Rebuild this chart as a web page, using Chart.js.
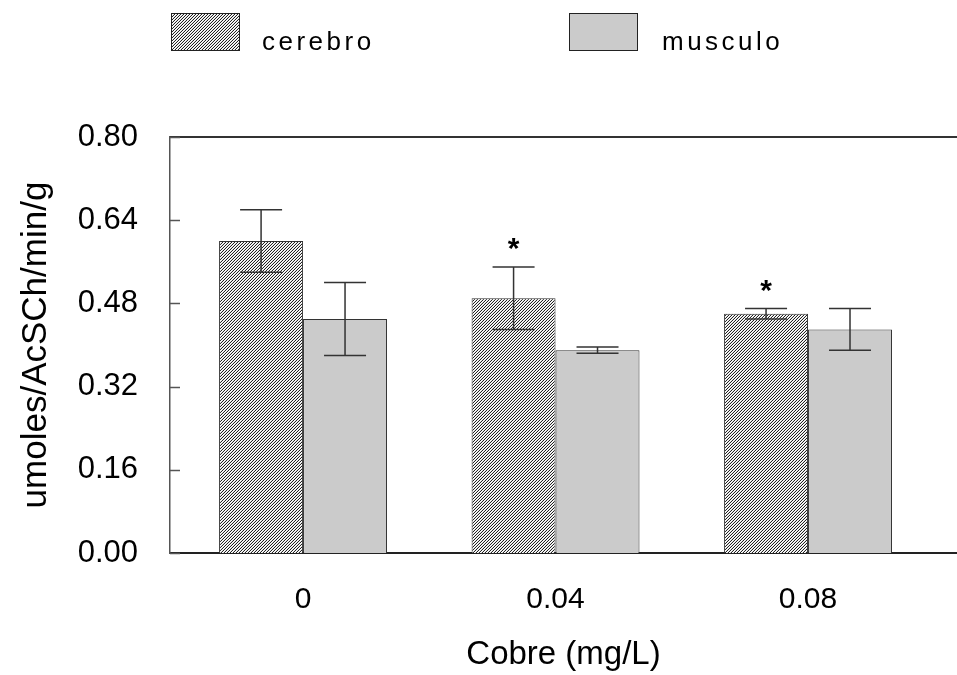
<!DOCTYPE html>
<html>
<head>
<meta charset="utf-8">
<script src="https://cdn.jsdelivr.net/npm/chart.js@4.4.1/dist/chart.umd.min.js"></script>
<style>
  body { margin: 0; background: #fff; }
</style>
</head>
<body>
<canvas id="chart" width="957" height="675"></canvas>
<script>
// data
const categories = ["0", "0.04", "0.08"];
const cerebro = [0.60, 0.49, 0.46];
const cerebroErr = [0.06, 0.06, 0.01];
const musculo = [0.45, 0.39, 0.43];
const musculoErr = [0.07, 0.006, 0.04];
const marks = ["", "*", "*"];
const yTicks = [0, 0.16, 0.32, 0.48, 0.64, 0.80];

const FONT = "'Liberation Sans', Arial, sans-serif";
const canvas = document.getElementById("chart");
const mainCtx = canvas.getContext("2d");

function makeHatch() {
  const c = document.createElement("canvas");
  c.width = 3; c.height = 3;
  const g = c.getContext("2d");
  g.fillStyle = "#fff";
  g.fillRect(0, 0, 3, 3);
  for (let x = 0; x < 3; x++) {
    for (let y = 0; y < 3; y++) {
      const k = (x + y) % 3;
      if (k === 2) { g.fillStyle = "#222"; g.fillRect(x, y, 1, 1); }
      if (k === 1) { g.fillStyle = "#e2e2e2"; g.fillRect(x, y, 1, 1); }
    }
  }
  return mainCtx.createPattern(c, "repeat");
}
const hatch = makeHatch();
const grey = "#cbcbcb";

/* ======================
   extras: error bars, stars, ticks, legend
====================== */
const extras = {
  id: "extras",
  afterDatasetsDraw(chart) {
    const { ctx, scales: { y } } = chart;
    const sets = [[cerebro, cerebroErr], [musculo, musculoErr]];
    ctx.save();
    ctx.strokeStyle = "#333";
    ctx.lineWidth = 1.5;
    sets.forEach(([vals, errs], d) => {
      chart.getDatasetMeta(d).data.forEach((bar, i) => {
        const top = y.getPixelForValue(vals[i] + errs[i]);
        const bot = y.getPixelForValue(vals[i] - errs[i]);
        ctx.beginPath();
        ctx.moveTo(bar.x, top); ctx.lineTo(bar.x, bot);
        ctx.moveTo(bar.x - 21, top); ctx.lineTo(bar.x + 21, top);
        ctx.moveTo(bar.x - 21, bot); ctx.lineTo(bar.x + 21, bot);
        ctx.stroke();
        if (d === 0 && marks[i]) {
          ctx.fillStyle = "#000";
          ctx.font = "bold 30px " + FONT;
          ctx.textAlign = "center";
          ctx.textBaseline = "middle";
          ctx.fillText(marks[i], bar.x, top - 17);
        }
      });
    });
    ctx.restore();
  },
  afterDraw(chart) {
    const { ctx, chartArea: a, scales: { y } } = chart;
    ctx.save();
    // top frame line
    ctx.strokeStyle = "#333";
    ctx.lineWidth = 2;
    ctx.beginPath();
    ctx.moveTo(a.left, a.top); ctx.lineTo(a.right, a.top);
    ctx.stroke();
    // inward y ticks
    ctx.lineWidth = 1.5;
    ctx.strokeStyle = "#555";
    yTicks.forEach(v => {
      const py = Math.round(y.getPixelForValue(v)) + 0.5;
      ctx.beginPath();
      ctx.moveTo(a.left, py); ctx.lineTo(a.left + 10, py);
      ctx.stroke();
    });
    // legend
    const items = [
      { label: "cerebro", fill: hatch, x: 171, tx: 262 },
      { label: "musculo", fill: grey, x: 569, tx: 662 }
    ];
    ctx.font = "26px " + FONT;
    ctx.textAlign = "left";
    ctx.textBaseline = "alphabetic";
    ctx.letterSpacing = "3.5px";
    items.forEach(it => {
      ctx.fillStyle = it.fill;
      ctx.fillRect(it.x, 13, 68, 37);
      ctx.strokeStyle = "#222";
      ctx.lineWidth = 1;
      ctx.strokeRect(it.x + 0.5, 13.5, 68, 37);
      ctx.fillStyle = "#000";
      ctx.fillText(it.label, it.tx, 50);
    });
    ctx.restore();
  }
};

new Chart(canvas, {
  type: "bar",
  data: {
    datasets: [
      {
        label: "cerebro",
        data: cerebro.map((v, i) => ({ x: i, y: v })),
        backgroundColor: hatch,
        borderColor: "#333",
        borderWidth: 1
      },
      {
        label: "musculo",
        data: musculo.map((v, i) => ({ x: i, y: v })),
        backgroundColor: grey,
        borderColor: "#333",
        borderWidth: 1
      }
    ]
  },
  options: {
    responsive: false,
    animation: false,
    layout: { padding: { top: 137, left: 0, right: 0, bottom: 0 } },
    datasets: { bar: { categoryPercentage: 0.665, barPercentage: 1 } },
    plugins: {
      legend: { display: false },
      tooltip: { enabled: false }
    },
    scales: {
      x: {
        type: "linear",
        offset: false,
        min: -0.527,
        max: 2.59,
        afterBuildTicks: s => { s.ticks = categories.map((c, i) => ({ value: i })); },
        afterFit: s => { s.height = 122; },
        grid: { display: false, offset: false },
        border: { display: true, color: "#222", width: 2 },
        ticks: {
          callback: v => categories[v],
          color: "#000",
          padding: 21,
          font: { family: FONT, size: 30 }
        },
        title: {
          display: true,
          text: "Cobre (mg/L)",
          color: "#000",
          padding: { top: 3, bottom: 0 },
          font: { family: FONT, size: 33 }
        }
      },
      y: {
        min: 0,
        max: 0.8,
        afterBuildTicks: s => { s.ticks = yTicks.map(v => ({ value: v })); },
        afterFit: s => { s.width = 170; },
        grid: { display: false },
        border: { display: true, color: "#555", width: 1.5 },
        ticks: {
          callback: v => v.toFixed(2),
          color: "#000",
          padding: 24,
          font: { family: FONT, size: 31 }
        },
        title: {
          display: true,
          text: "umoles/AcSCh/min/g",
          color: "#000",
          padding: { top: 15, bottom: 0 },
          font: { family: FONT, size: 35 }
        }
      }
    }
  },
  plugins: [extras]
});
</script>
</body>
</html>
